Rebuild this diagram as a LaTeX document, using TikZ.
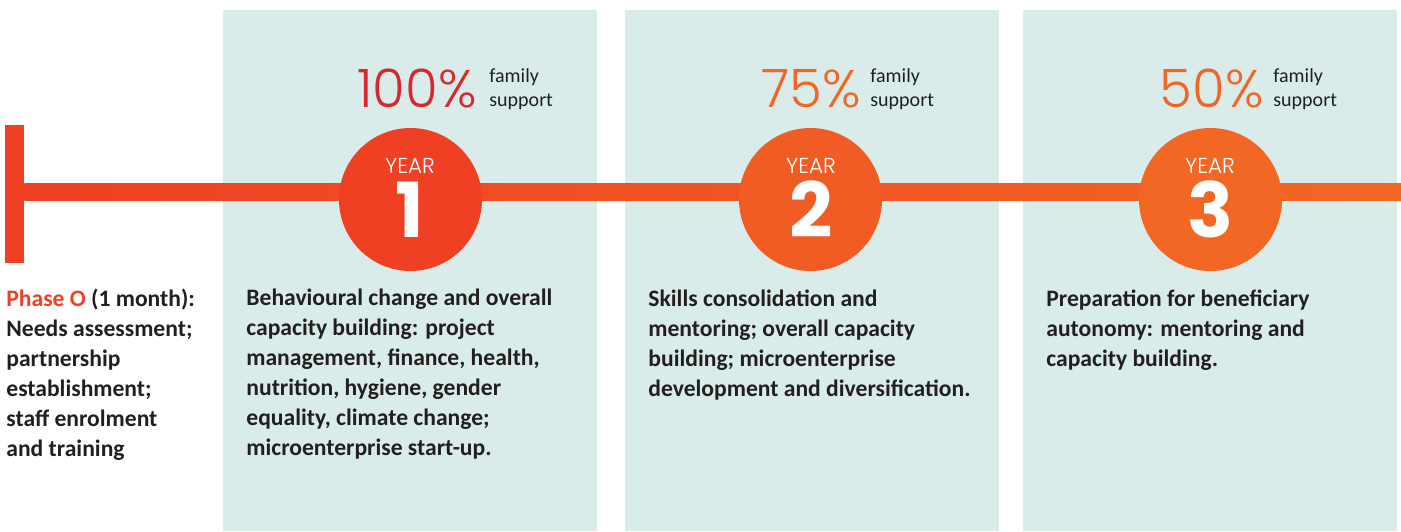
\documentclass[tikz,border=0pt]{standalone}
\usepackage{fontspec}
\setmainfont{Carlito}
\newfontfamily\thinfont{Poppins}[UprightFont={* Light},BoldFont={* Bold}]
\usetikzlibrary{calc}

\definecolor{panelbg}{RGB}{217,236,234}
\definecolor{tlred}{RGB}{239,64,35}
\definecolor{tlmid}{RGB}{241,92,36}
\definecolor{tlorange}{RGB}{242,103,36}
\definecolor{pcred}{RGB}{214,40,46}
\definecolor{pcorange}{RGB}{242,101,34}
\definecolor{inkdark}{RGB}{35,31,32}

\begin{document}
\begin{tikzpicture}[x=0.5pt,y=-0.5pt,
	yearc/.style={circle, minimum size=71.5pt, inner sep=0pt},
	yearlab/.style={anchor=base, text=white, font=\thinfont\fontsize{10.8}{12}\selectfont},
	yearnum/.style={anchor=base, text=white, font=\thinfont\bfseries\fontsize{38}{40}\selectfont},
	pct/.style={anchor=base east, inner sep=0pt, font=\thinfont\fontsize{26.5}{30}\selectfont},
	fam/.style={anchor=north west, inner sep=0pt, align=left, text=inkdark, font=\fontsize{10}{12}\selectfont},
	body/.style={anchor=north west, inner sep=0pt, align=left, text=inkdark, font=\bfseries\fontsize{11.8}{15}\selectfont}]
	
	\useasboundingbox (0,0) rectangle (1401,531);
	
	% panels
	\foreach \x in {223,625,1023}
		\fill[panelbg] (\x,10) rectangle ++(374,521);
	
	% timeline
	\node[fill=tlred, minimum width=9.5pt, minimum height=69pt, inner sep=0pt] (start) at (14.5,194) {};
	\coordinate (lineend) at (1401,191.5);
	\shade[left color=tlred, right color=tlorange] ($(start.east |- lineend)+(0,-8.5)$) rectangle ($(lineend)+(0,8.5)$);
	
	\node[yearc, fill=tlred] (y1) at (410.5,199.5) {};
	\node[yearc, fill=tlmid] (y2) at (810.5,199.5) {};
	\node[yearc, fill=tlorange] (y3) at (1210.5,199.5) {};
	
	\node[yearlab] (y1lab) at (410,173) {YEAR};
	\node[yearnum] (y1num) at (410,237) {1};
	\node[yearlab] (y2lab) at (811,173) {YEAR};
	\node[yearnum] (y2num) at (811,237) {2};
	\node[yearlab] (y3lab) at (1210,173) {YEAR};
	\node[yearnum] (y3num) at (1210,237) {3};
	
	% support
	\node[pct, text=pcred] (p1) at (477,107) {100\%};
	\node[fam] (f1) at (489,68) {family\\support};
	\node[pct, text=pcorange] (p2) at (861,107) {75\%};
	\node[fam] (f2) at (870,68) {family\\support};
	\node[pct, text=pcorange] (p3) at (1264,107) {50\%};
	\node[fam] (f3) at (1273,68) {family\\support};
	
	% texts
	\node[body] (t0) at (6,289) {\textcolor{tlred}{Phase O} (1 month):\\Needs assessment;\\partnership\\establishment;\\staff enrolment\\and training};
	\node[body] (t1) at (246,289) {Behavioural change and overall\\capacity building: project\\management, finance, health,\\nutrition, hygiene, gender\\equality, climate change;\\microenterprise start-up.};
	\node[body] (t2) at (648,289) {Skills consolidation and\\mentoring; overall capacity\\building; microenterprise\\development and diversification.};
	\node[body] (t3) at (1046,289) {Preparation for beneficiary\\autonomy: mentoring and\\capacity building.};
\end{tikzpicture}
\end{document}
